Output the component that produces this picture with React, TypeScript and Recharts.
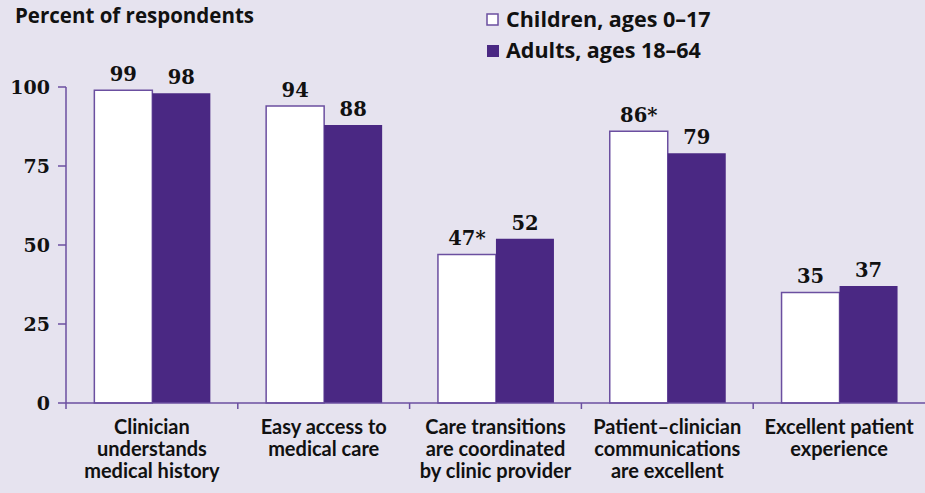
import React from "react";
import { BarChart, Bar, XAxis, YAxis, LabelList, Customized } from "recharts";

const categories = [
  ["Clinician", "understands", "medical history"],
  ["Easy access to", "medical care"],
  ["Care transitions", "are coordinated", "by clinic provider"],
  ["Patient\u2013clinician", "communications", "are excellent"],
  ["Excellent patient", "experience"],
];
const childrenValues = [99, 94, 47, 86, 35];
const adultValues = [98, 88, 52, 79, 37];
const childrenLabels = ["99", "94", "47*", "86*", "35"];
const adultLabels = ["98", "88", "52", "79", "37"];
const yTicks = [0, 25, 50, 75, 100];
const seriesNames = ["Children, ages 0\u201317", "Adults, ages 18\u201364"];
const title = "Percent of respondents";

const data = categories.map((c, i) => ({
  name: c.join("\n"),
  children: childrenValues[i],
  adults: adultValues[i],
  childLabel: childrenLabels[i],
  adultLabel: adultLabels[i],
}));

const W = 925;
const H = 493;
const BG = "#E6E3EF";
const PURPLE = "#4A2883";
const AXIS = "#6B4FA0";
const SANS = "Lato, 'Open Sans', sans-serif";
const SANS_WIDE = "'Open Sans', Lato, sans-serif";
const SERIF = "'DejaVu Serif', serif";
const Y_AXIS_W = 66;
const X_AXIS_H = 90;
const MARGIN = { top: 87, right: 0, bottom: 0, left: 0 };
const band = (W - Y_AXIS_W - MARGIN.left - MARGIN.right) / categories.length;

const XTick = (props: any) => {
  const { x, y, payload } = props;
  const lines = String(payload.value).split("\n");
  return (
    <g>
      <line x1={x - band / 2} x2={x - band / 2} y1={y} y2={y + 6} stroke={AXIS} strokeWidth={1.5} />
      <text x={x} y={y} textAnchor="middle" fontFamily={SANS} fontWeight={700} fontSize={20} fill="#111">
        {lines.map((l, i) => (
          <tspan key={i} x={x} dy={i === 0 ? 31 : 21.8}>
            {l}
          </tspan>
        ))}
      </text>
    </g>
  );
};

const Overlay = () => (
  <g>
    <text x={15} y={23} fontFamily={SANS_WIDE} fontWeight={700} fontSize={20.5} fill="#111">
      {title}
    </text>
    <rect x={487} y={14} width={11} height={11} fill="#fff" stroke={AXIS} strokeWidth={1.5} />
    <text x={506} y={27} fontFamily={SANS_WIDE} fontWeight={700} fontSize={21.5} fill="#111">
      {seriesNames[0]}
    </text>
    <rect x={487} y={45} width={12} height={12} fill={PURPLE} />
    <text x={506} y={58} fontFamily={SANS_WIDE} fontWeight={700} fontSize={21.5} fill="#111">
      {seriesNames[1]}
    </text>
  </g>
);

export default function App() {
  return (
    <div style={{ position: "absolute", left: 0, top: 0, width: W, height: H, background: BG }}>
      <BarChart width={W} height={H} data={data} margin={MARGIN} barCategoryGap="16.5%" barGap={0}>
        <Customized component={Overlay} />
        <XAxis
          dataKey="name"
          height={X_AXIS_H}
          interval={0}
          tickLine={false}
          tickSize={0}
          tickMargin={0}
          tick={<XTick />}
          axisLine={{ stroke: AXIS, strokeWidth: 1.5 }}
        />
        <YAxis
          width={Y_AXIS_W}
          domain={[0, 100]}
          ticks={yTicks}
          interval={0}
          tickSize={8}
          tickMargin={8}
          axisLine={{ stroke: AXIS, strokeWidth: 1.5 }}
          tickLine={{ stroke: AXIS, strokeWidth: 1.5 }}
          tick={{ fontFamily: SERIF, fontWeight: 700, fontSize: 19, fill: "#111" }}
        />
        <Bar dataKey="children" fill="#fff" stroke={AXIS} strokeWidth={1.5} isAnimationActive={false}>
          <LabelList dataKey="childLabel" position="top" offset={9} fontFamily={SERIF} fontWeight={700} fontSize={19.5} fill="#111" />
        </Bar>
        <Bar dataKey="adults" fill={PURPLE} isAnimationActive={false}>
          <LabelList dataKey="adultLabel" position="top" offset={9} fontFamily={SERIF} fontWeight={700} fontSize={19.5} fill="#111" />
        </Bar>
      </BarChart>
    </div>
  );
}
